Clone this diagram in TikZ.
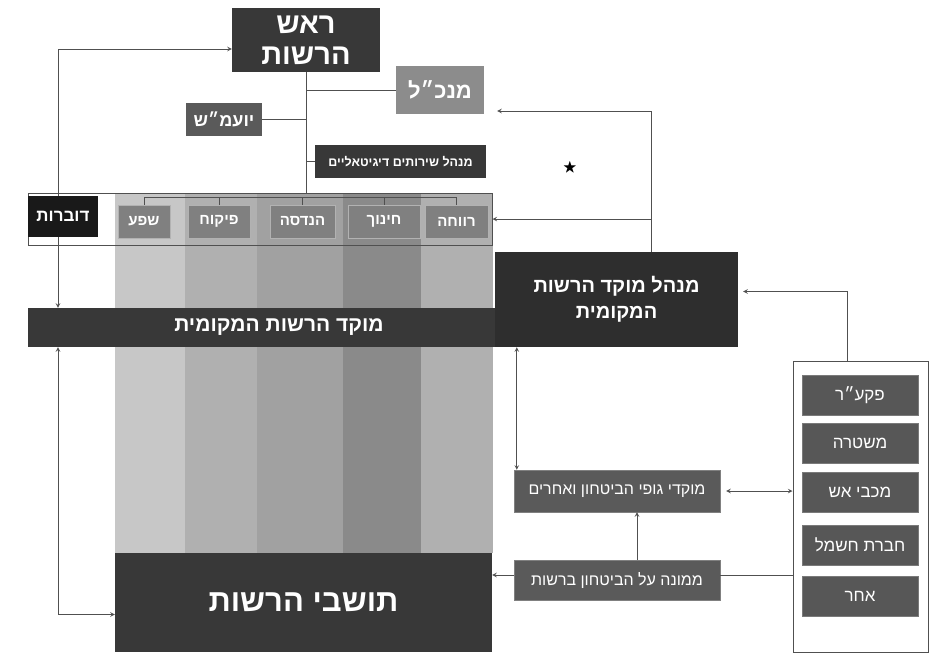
\documentclass[tikz,border=0pt]{standalone}
\usepackage{amssymb}
\usepackage{fontspec}
\usepackage{tikz}
\TeXXeTstate=1
\newfontfamily\heb[Script=Hebrew]{Liberation Sans}
\newcommand{\rl}[1]{\beginR #1\endR}
\newcommand{\fsz}[1]{\fontsize{#1}{#1}\selectfont}
\definecolor{dk}{HTML}{383838}
\definecolor{md}{HTML}{5A5A5A}
\definecolor{ln}{HTML}{505050}

\begin{document}
\begin{tikzpicture}[x=1pt, y=-1pt, >=stealth,
    box/.style={rectangle, inner sep=0pt, text=white, align=center, font=\heb\bfseries},
    dept/.style={box, fill=black!50, draw=black!30, line width=1pt, minimum width=#1, minimum height=33pt, font=\heb\bfseries\fsz{15}},
    side/.style={box, fill=black!66, draw=black!52, line width=0.8pt, minimum width=116pt, minimum height=40pt, font=\heb\fsz{17}}]

    \useasboundingbox (0,0) rectangle (931,656);

    \fill[black!22] (115,193) rectangle (185,553);
    \fill[black!31] (185,193) rectangle (257,553);
    \fill[black!37] (257,193) rectangle (343,553);
    \fill[black!46] (343,193) rectangle (421,553);
    \fill[black!31] (421,193) rectangle (493,553);

    \node[box, fill=dk, minimum width=148pt, minimum height=64pt, font=\heb\bfseries\fontsize{29}{31}\selectfont] (a) at (306,40) {\rl{ראש}\\\rl{הרשות}};
    \node[box, fill=black!45, minimum width=88pt, minimum height=48pt, font=\heb\bfseries\fsz{22}] (b) at (440,90) {\rl{מנכ״ל}};
    \node[box, fill=md, minimum width=76pt, minimum height=33pt, font=\heb\bfseries\fsz{18}] (c) at (224,119.5) {\rl{יועמ״ש}};
    \node[box, fill=dk, minimum width=171pt, minimum height=33pt, font=\heb\bfseries\fsz{12.5}] (d) at (400.5,161.5) {\rl{מנהל שירותים דיגיטאליים}};

    \node[draw=ln, line width=1pt, minimum width=464pt, minimum height=52pt, inner sep=0pt] (e) at (260,219) {};
    \node[box, fill=black!90, minimum width=70pt, minimum height=41pt, font=\heb\bfseries\fsz{17}] (f) at (63,216.5) {\rl{דוברות}};
    \node[dept=52pt] (g) at (144,221.5) {\rl{שפע}};
    \node[dept=62pt] (h) at (219,221.5) {\rl{פיקוח}};
    \node[dept=65pt] (i) at (302.5,221.5) {\rl{הנדסה}};
    \node[dept=72pt] (j) at (384,221.5) {\rl{חינוך}};
    \node[dept=63pt] (k) at (456.5,221.5) {\rl{רווחה}};

    \node[box, fill=dk, minimum width=502pt, minimum height=39pt, font=\heb\bfseries\fsz{21}] (l) at (279,327.5) {\rl{מוקד הרשות המקומית}};
    \node[box, fill=black!82, minimum width=243pt, minimum height=95pt, font=\heb\bfseries\fontsize{20}{26}\selectfont] (m) at (616.5,299.5) {\rl{מנהל מוקד הרשות}\\\rl{המקומית}};
    \node[box, fill=dk, minimum width=377pt, minimum height=99pt, font=\heb\bfseries\fsz{31}] (n) at (303.5,602.5) {\rl{תושבי הרשות}};

    \node[box, fill=md, draw=black!50, minimum width=206pt, minimum height=42pt, font=\heb\fsz{16}] (o) at (617,491) {\rl{מוקדי גופי הביטחון ואחרים}};
    \node[box, fill=md, draw=black!50, minimum width=206pt, minimum height=40pt, font=\heb\fsz{16}] (p) at (617,580) {\rl{ממונה על הביטחון ברשות}};

    \node[draw=ln, line width=1pt, minimum width=135pt, minimum height=291pt, inner sep=0pt] (q) at (860.5,506.5) {};
    \node[side] (r) at (860,395) {\rl{פקע״ר}};
    \node[side] (s) at (860,443.5) {\rl{משטרה}};
    \node[side] (t) at (860,492.5) {\rl{מכבי אש}};
    \node[side] (u) at (860,545) {\rl{חברת חשמל}};
    \node[side] (v) at (860,596) {\rl{אחר}};

    \node[font=\Large] (w) at (570,168) {$\bigstar$};

    \draw[ln, line width=1pt] (a.south) -- (a.south |- e.north);
    \draw[ln, line width=1pt] (a.south |- b.west) -- (b.west);
    \draw[ln, line width=1pt] (a.south |- c.east) -- (c.east);
    \draw[ln, line width=1pt] (a.south |- d.west) -- (d.west);
    \draw[ln, line width=1pt] (g.north) -- ++(0,-7) -- ([yshift=7pt]k.north) -- (k.north);
    \foreach \n in {h,i,j}
        \draw[ln, line width=1pt] (\n.north) -- ++(0,-7);

    \draw[->, ln, line width=1pt] ([xshift=-5pt]f.north) |- ([yshift=-9pt]a.west);
    \draw[->, ln, line width=1pt] ([xshift=-5pt]f.south) -- ([xshift=-5pt]f.south |- l.north);
    \draw[<->, ln, line width=1pt] ([xshift=-5pt]f.south |- l.south) |- ([yshift=-12pt]n.west);

    \draw[->, ln, line width=1pt] ([xshift=35pt]m.north) |- ([xshift=13pt, yshift=-21pt]b.east);
    \draw[->, ln, line width=1pt] ([xshift=35pt]m.north) |- (e.east);
    \draw[->, ln, line width=1pt] ([xshift=-13pt]q.north) |- ([xshift=5pt, yshift=8pt]m.east);

    \draw[<->, ln, line width=1pt] ([xshift=3pt]o.north west) -- ([xshift=3pt]o.north west |- m.south);
    \draw[<->, ln, line width=1pt] ([xshift=6pt]o.east) -- (o.east -| q.west);
    \draw[->, ln, line width=1pt] ([xshift=20pt]p.north) -- ([xshift=20pt]o.south);
    \draw[ln, line width=1pt] ([yshift=5pt]p.east) -- ([yshift=5pt]p.east -| q.west);
    \draw[->, ln, line width=1pt] ([yshift=5pt]p.west) -- ([yshift=5pt]p.west -| n.east);

\end{tikzpicture}
\end{document}
